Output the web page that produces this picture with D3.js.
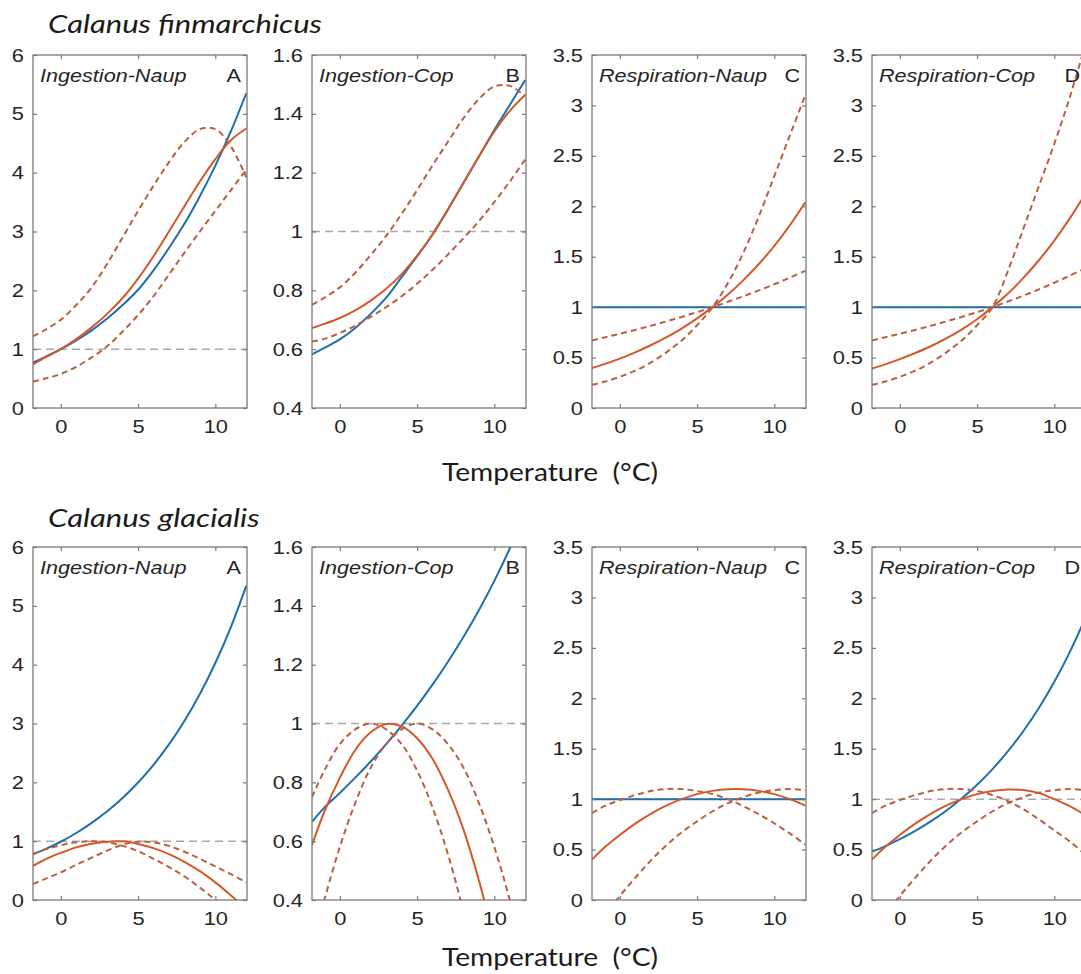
<!DOCTYPE html>
<html>
<head>
<meta charset="utf-8">
<script src="https://cdn.jsdelivr.net/npm/d3@7"></script>
<style>
  html, body { margin: 0; padding: 0; background: #ffffff; }
  svg { display: block; }
</style>
</head>
<body>
<script>
// ---------------- DATA ----------------
const temps = [-1.8, -1, 0, 1, 2, 3, 4, 5, 6, 7, 8, 9, 10, 11, 12];
const xTicks = [0, 5, 10];
const yTicksIngNaup = [0, 1, 2, 3, 4, 5, 6];
const yTicksIngCop = [0.4, 0.6, 0.8, 1, 1.2, 1.4, 1.6];
const yTicksResp = [0, 0.5, 1, 1.5, 2, 2.5, 3, 3.5];
const panelNames = ["Ingestion-Naup", "Ingestion-Cop", "Respiration-Naup", "Respiration-Cop"];
const panelLetters = ["A", "B", "C", "D"];
const speciesNames = ["Calanus finmarchicus", "Calanus glacialis"];
const xLabel = "Temperature  (°C)";

// Calanus finmarchicus
const finIngNaupBlue = [0.77, 0.87, 1.0, 1.15, 1.32, 1.52, 1.75, 2.01, 2.34, 2.72, 3.13, 3.6, 4.12, 4.7, 5.35];
const finIngNaupFit  = [0.74, 0.86, 1.0, 1.17, 1.37, 1.6, 1.87, 2.2, 2.58, 3.0, 3.43, 3.85, 4.23, 4.55, 4.75];
const finIngNaupHi   = [1.22, 1.33, 1.5, 1.75, 2.05, 2.45, 2.9, 3.35, 3.78, 4.18, 4.52, 4.74, 4.74, 4.45, 3.92];
const finIngNaupLo   = [0.45, 0.5, 0.58, 0.7, 0.86, 1.05, 1.3, 1.58, 1.9, 2.27, 2.64, 3.0, 3.35, 3.7, 4.05];

const finIngCopBlue = [0.582, 0.604, 0.633, 0.672, 0.72, 0.775, 0.845, 0.915, 0.99, 1.075, 1.165, 1.255, 1.345, 1.43, 1.515];
const finIngCopFit  = [0.672, 0.686, 0.706, 0.732, 0.765, 0.805, 0.855, 0.918, 0.99, 1.075, 1.165, 1.255, 1.34, 1.41, 1.465];
const finIngCopHi   = [0.751, 0.775, 0.81, 0.86, 0.92, 0.985, 1.06, 1.14, 1.225, 1.305, 1.385, 1.45, 1.493, 1.495, 1.46];
const finIngCopLo   = [0.626, 0.635, 0.655, 0.68, 0.71, 0.743, 0.78, 0.822, 0.87, 0.922, 0.977, 1.035, 1.1, 1.17, 1.245];

const finRespNaupBlue = [1, 1, 1, 1, 1, 1, 1, 1, 1, 1, 1, 1, 1, 1, 1];
const finRespNaupFit  = [0.396, 0.435, 0.49, 0.552, 0.622, 0.7, 0.788, 0.888, 1.0, 1.126, 1.268, 1.428, 1.608, 1.811, 2.04];
const finRespNaupHi   = [0.23, 0.26, 0.31, 0.37, 0.45, 0.55, 0.67, 0.82, 1.0, 1.24, 1.54, 1.9, 2.3, 2.7, 3.1];
const finRespNaupLo   = [0.67, 0.699, 0.736, 0.774, 0.815, 0.858, 0.903, 0.95, 1.0, 1.053, 1.108, 1.166, 1.227, 1.292, 1.36];

const finRespCopBlue = [1, 1, 1, 1, 1, 1, 1, 1, 1, 1, 1, 1, 1, 1, 1];
const finRespCopFit  = [0.39, 0.43, 0.485, 0.545, 0.612, 0.69, 0.778, 0.88, 1.0, 1.135, 1.29, 1.465, 1.66, 1.88, 2.12];
const finRespCopHi   = [0.23, 0.26, 0.31, 0.37, 0.45, 0.55, 0.67, 0.82, 1.0, 1.36, 1.78, 2.2, 2.62, 3.08, 3.6];
const finRespCopLo   = [0.67, 0.699, 0.736, 0.774, 0.815, 0.858, 0.903, 0.95, 1.0, 1.056, 1.114, 1.176, 1.242, 1.312, 1.386];

// Calanus glacialis
const glaIngNaupBlue = [0.78, 0.865, 0.99, 1.139, 1.311, 1.508, 1.735, 1.997, 2.298, 2.644, 3.042, 3.5, 4.028, 4.635, 5.34];
const glaIngNaupFit  = [0.58, 0.69, 0.8, 0.895, 0.957, 0.992, 0.997, 0.953, 0.882, 0.78, 0.65, 0.49, 0.3, 0.08, -0.16];
const glaIngNaupHi   = [0.27, 0.36, 0.47, 0.6, 0.72, 0.84, 0.94, 0.99, 0.98, 0.92, 0.82, 0.7, 0.57, 0.44, 0.3];
const glaIngNaupLo   = [0.78, 0.86, 0.93, 0.98, 1.0, 0.98, 0.92, 0.83, 0.7, 0.56, 0.4, 0.21, 0.0, -0.22, -0.45];

const glaIngCopBlue = [0.666, 0.714, 0.764, 0.816, 0.871, 0.93, 0.993, 1.06, 1.132, 1.21, 1.294, 1.385, 1.485, 1.595, 1.715];
const glaIngCopFit  = [0.587, 0.7, 0.815, 0.91, 0.97, 0.998, 0.99, 0.95, 0.88, 0.775, 0.64, 0.467, 0.264, 0.028, -0.24];
const glaIngCopHi   = [0.75, 0.84, 0.93, 0.98, 1.0, 0.98, 0.93, 0.84, 0.715, 0.555, 0.36, 0.13, -0.12, -0.4, -0.7];
const glaIngCopLo   = [0.23, 0.4, 0.58, 0.73, 0.85, 0.93, 0.98, 1.0, 0.98, 0.93, 0.85, 0.73, 0.58, 0.4, 0.18];

const glaRespNaupBlue = [1, 1, 1, 1, 1, 1, 1, 1, 1, 1, 1, 1, 1, 1, 1];
const glaRespNaupFit  = [0.4, 0.52, 0.645, 0.758, 0.855, 0.936, 1.0, 1.05, 1.082, 1.098, 1.098, 1.082, 1.05, 1.0, 0.936];
const glaRespNaupHi   = [0.86, 0.93, 0.99, 1.04, 1.08, 1.1, 1.1, 1.08, 1.05, 1.0, 0.93, 0.85, 0.76, 0.66, 0.55];
const glaRespNaupLo   = [-0.34, -0.16, 0.04, 0.22, 0.39, 0.54, 0.67, 0.78, 0.88, 0.96, 1.02, 1.065, 1.09, 1.1, 1.09];

const glaRespCopBlue = [0.48, 0.53, 0.603, 0.685, 0.779, 0.885, 1.006, 1.143, 1.298, 1.475, 1.676, 1.904, 2.163, 2.458, 2.793];
const glaRespCopFit  = [0.4, 0.52, 0.645, 0.758, 0.855, 0.936, 1.0, 1.05, 1.08, 1.095, 1.09, 1.06, 1.0, 0.93, 0.84];
const glaRespCopHi   = [0.86, 0.93, 0.99, 1.04, 1.08, 1.1, 1.1, 1.08, 1.04, 0.98, 0.9, 0.8, 0.69, 0.58, 0.45];
const glaRespCopLo   = [-0.34, -0.16, 0.04, 0.22, 0.39, 0.54, 0.67, 0.78, 0.88, 0.96, 1.02, 1.065, 1.09, 1.1, 1.09];

const refLevel = 1;

// ---------------- LAYOUT / STYLE ----------------
const W = 1081, H = 974;
const colLefts = [33, 312, 592, 872];
const plotW = 214;
const rows = [
  { top: 55, bottom: 408, titleY: 33, xlabY: 481 },
  { top: 547, bottom: 900, titleY: 527, xlabY: 966 }
];
const xDomain = [-1.8, 12.05];
const yDomains = [[0, 6], [0.4, 1.6], [0, 3.5], [0, 3.5]];
const yTickSets = [yTicksIngNaup, yTicksIngCop, yTicksResp, yTicksResp];

const panels = [
  [
    { blue: finIngNaupBlue, fit: finIngNaupFit, hi: finIngNaupHi, lo: finIngNaupLo },
    { blue: finIngCopBlue, fit: finIngCopFit, hi: finIngCopHi, lo: finIngCopLo },
    { blue: finRespNaupBlue, fit: finRespNaupFit, hi: finRespNaupHi, lo: finRespNaupLo },
    { blue: finRespCopBlue, fit: finRespCopFit, hi: finRespCopHi, lo: finRespCopLo }
  ],
  [
    { blue: glaIngNaupBlue, fit: glaIngNaupFit, hi: glaIngNaupHi, lo: glaIngNaupLo },
    { blue: glaIngCopBlue, fit: glaIngCopFit, hi: glaIngCopHi, lo: glaIngCopLo },
    { blue: glaRespNaupBlue, fit: glaRespNaupFit, hi: glaRespNaupHi, lo: glaRespNaupLo },
    { blue: glaRespCopBlue, fit: glaRespCopFit, hi: glaRespCopHi, lo: glaRespCopLo }
  ]
];

const BLUE = "#1f6fae";
const ORANGE = "#d4582a";
const ORANGE_DASH = "#bb5f40";
const AXIS = "#7a7a7a";
const TXT = "#252525";
const STRETCH = 1.15;

const svg = d3.select("body").append("svg")
  .attr("width", W).attr("height", H)
  .style("background", "#fff");

function stretchText(sel, factor) {
  sel.each(function () {
    const len = this.getComputedTextLength();
    d3.select(this).attr("textLength", len * factor).attr("lengthAdjust", "spacingAndGlyphs");
  });
}

const fmt = d => (Math.round(d * 10) / 10).toString();

const titles = rows.map((row, ri) => svg.append("text")
  .attr("x", 48).attr("y", row.titleY)
  .attr("font-family", "Lato, 'Open Sans', sans-serif")
  .attr("font-style", "italic")
  .attr("font-size", 26)
  .attr("fill", "#1a1a1a")
  .text(speciesNames[ri]));
const titleScale = 274 / titles[0].node().getComputedTextLength();
titles.forEach(t => stretchText(t, titleScale));

rows.forEach((row, ri) => {
  svg.append("text")
    .attr("x", 550).attr("y", row.xlabY)
    .attr("text-anchor", "middle")
    .attr("font-family", "Lato, 'Open Sans', sans-serif")
    .attr("font-size", 25)
    .attr("fill", "#1a1a1a")
    .style("white-space", "pre")
    .attr("textLength", 216).attr("lengthAdjust", "spacingAndGlyphs")
    .text(xLabel);

  colLefts.forEach((left, ci) => {
    const h = row.bottom - row.top;
    const g = svg.append("g").attr("transform", `translate(${left},${row.top})`);
    const x = d3.scaleLinear().domain(xDomain).range([0, plotW]);
    const y = d3.scaleLinear().domain(yDomains[ci]).range([h, 0]);
    const clipId = `clip-${ri}-${ci}`;
    g.append("clipPath").attr("id", clipId)
      .append("rect").attr("x", 0).attr("y", 0).attr("width", plotW).attr("height", h);

    const plot = g.append("g").attr("clip-path", `url(#${clipId})`);
    const d = panels[ri][ci];
    const line = d3.line()
      .x((v, i) => x(temps[i]))
      .y(v => y(v))
      .curve(d3.curveCatmullRom.alpha(0.5));

    plot.append("line")
      .attr("x1", x(xDomain[0])).attr("x2", x(xDomain[1]))
      .attr("y1", y(refLevel)).attr("y2", y(refLevel))
      .attr("stroke", "#a9a9a9").attr("stroke-width", 1.5)
      .attr("stroke-dasharray", "8,5");

    plot.append("path").datum(d.blue).attr("d", line)
      .attr("fill", "none").attr("stroke", BLUE).attr("stroke-width", 2);
    [d.hi, d.lo].forEach(arr => {
      plot.append("path").datum(arr).attr("d", line)
        .attr("fill", "none").attr("stroke", ORANGE_DASH).attr("stroke-width", 2)
        .attr("stroke-dasharray", "6,4");
    });
    plot.append("path").datum(d.fit).attr("d", line)
      .attr("fill", "none").attr("stroke", ORANGE).attr("stroke-width", 2);

    const yAx = g.append("g").call(d3.axisLeft(y).tickValues(yTickSets[ci]).tickFormat(fmt).tickSize(-4).tickSizeOuter(0).tickPadding(9));
    const yAxR = g.append("g").attr("transform", `translate(${plotW},0)`)
      .call(d3.axisRight(y).tickValues(yTickSets[ci]).tickFormat("").tickSize(-4).tickSizeOuter(0));
    const xAx = g.append("g").attr("transform", `translate(0,${h})`)
      .call(d3.axisBottom(x).tickValues(xTicks).tickFormat(d3.format("d")).tickSize(-4).tickSizeOuter(0).tickPadding(12));
    const xAxT = g.append("g")
      .call(d3.axisTop(x).tickValues(xTicks).tickFormat("").tickSize(-4).tickSizeOuter(0));
    [yAx, yAxR, xAx, xAxT].forEach(a => {
      a.select(".domain").remove();
      a.selectAll("line").attr("stroke", AXIS).attr("stroke-width", 1.2);
      a.selectAll("text").attr("font-family", "'Liberation Sans', Arial, sans-serif")
        .attr("font-size", 19).attr("fill", TXT);
    });
    stretchText(yAx.selectAll("text"), STRETCH);
    stretchText(xAx.selectAll("text"), STRETCH);

    g.append("rect").attr("x", 0).attr("y", 0).attr("width", plotW).attr("height", h)
      .attr("fill", "none").attr("stroke", AXIS).attr("stroke-width", 1.3);

    const nm = g.append("text").attr("x", 7).attr("y", 27)
      .attr("font-family", "'Liberation Sans', Arial, sans-serif")
      .attr("font-style", "italic").attr("font-size", 18).attr("fill", TXT)
      .text(panelNames[ci]);
    stretchText(nm, 1.2);
    const lt = g.append("text").attr("x", plotW - 6).attr("y", 27)
      .attr("text-anchor", "end")
      .attr("font-family", "'Liberation Sans', Arial, sans-serif")
      .attr("font-size", 18).attr("fill", TXT)
      .text(panelLetters[ci]);
    stretchText(lt, 1.2);
  });
});
</script>
</body>
</html>
